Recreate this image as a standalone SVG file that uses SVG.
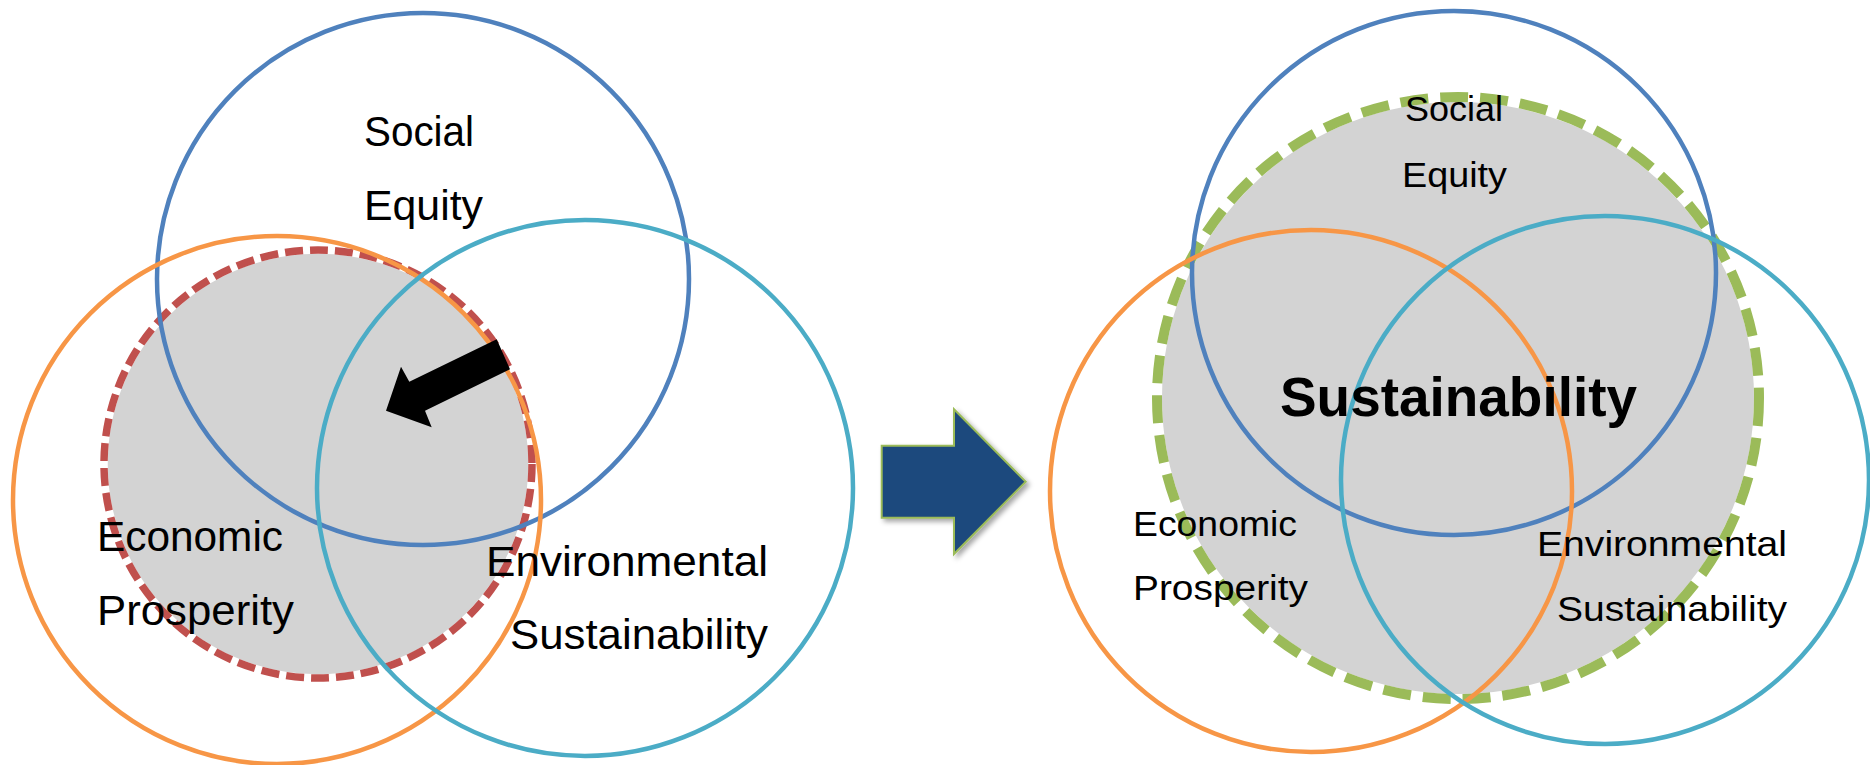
<svg xmlns="http://www.w3.org/2000/svg" width="1870" height="765" viewBox="0 0 1870 765">
<style>
.ring{fill:none;stroke-width:4.5}
.blue{stroke:#4f81bd}
.orange{stroke:#f79646}
.teal{stroke:#4bacc6}
.lbl{font-family:"Liberation Sans",Arial,sans-serif;fill:#000}
.big{font-size:43px}
.small{font-size:35px}
.bold{font-size:56px;font-weight:bold}
</style>
<defs>
<filter id="shadow" x="-20%" y="-20%" width="150%" height="150%">
<feDropShadow dx="3" dy="3" stdDeviation="2.5" flood-color="#000" flood-opacity="0.35"/>
</filter>
</defs>
<rect width="1870" height="765" fill="#fff"/>

<g id="left-focus">
<circle cx="318" cy="464" r="214" fill="#d3d3d3" stroke="#fff" stroke-width="7.5"/>
<circle cx="318" cy="464" r="214" fill="none" stroke="#c0504d" stroke-width="7.5" stroke-dasharray="18 7"/>
</g>
<g id="left-social"><circle class="ring blue" cx="423" cy="279" r="266"/></g>
<g id="left-economic"><circle class="ring orange" cx="277" cy="500" r="264"/></g>
<g id="left-environmental"><circle class="ring teal" cx="585" cy="488" r="268"/></g>
<g id="left-arrow">
<polygon points="496.7,339.3 409.3,381.7 401,366.7 386,410.7 431.7,427.3 425,410.7 510,369.3" fill="#000"/>
</g>
<g id="left-labels" class="lbl big">
<text x="364" y="146" textLength="110" lengthAdjust="spacingAndGlyphs">Social</text>
<text x="364" y="219.5" textLength="119" lengthAdjust="spacingAndGlyphs">Equity</text>
<text x="97" y="551" textLength="186" lengthAdjust="spacingAndGlyphs">Economic</text>
<text x="97" y="624.5" textLength="197" lengthAdjust="spacingAndGlyphs">Prosperity</text>
<text x="486" y="576" textLength="282" lengthAdjust="spacingAndGlyphs">Environmental</text>
<text x="510" y="649" textLength="258" lengthAdjust="spacingAndGlyphs">Sustainability</text>
</g>

<g id="transition-arrow">
<polygon points="881.7,445.7 954,445.7 954,409.3 1025.7,481.7 954,554 954,517.7 881.7,517.7" fill="#1f497d" stroke="#9bbb59" stroke-width="2" filter="url(#shadow)"/>
</g>

<g id="right-sustainability">
<circle cx="1458" cy="398" r="301" fill="#d3d3d3" stroke="#fff" stroke-width="10"/>
<circle cx="1458" cy="398" r="301" fill="none" stroke="#9bbb59" stroke-width="10" stroke-dasharray="28 12"/>
</g>
<g id="right-social"><circle class="ring blue" cx="1454" cy="273" r="262"/></g>
<g id="right-economic"><circle class="ring orange" cx="1311" cy="491" r="261"/></g>
<g id="right-environmental"><circle class="ring teal" cx="1605" cy="480" r="264"/></g>
<g id="right-labels" class="lbl">
<text class="small" x="1405" y="121" textLength="98" lengthAdjust="spacingAndGlyphs">Social</text>
<text class="small" x="1402" y="187" textLength="105" lengthAdjust="spacingAndGlyphs">Equity</text>
<text class="bold" x="1280" y="416" textLength="357" lengthAdjust="spacingAndGlyphs">Sustainability</text>
<text class="small" x="1133" y="536" textLength="164" lengthAdjust="spacingAndGlyphs">Economic</text>
<text class="small" x="1133" y="600" textLength="175" lengthAdjust="spacingAndGlyphs">Prosperity</text>
<text class="small" x="1537" y="556" textLength="250" lengthAdjust="spacingAndGlyphs">Environmental</text>
<text class="small" x="1557" y="621" textLength="230" lengthAdjust="spacingAndGlyphs">Sustainability</text>
</g>
</svg>
